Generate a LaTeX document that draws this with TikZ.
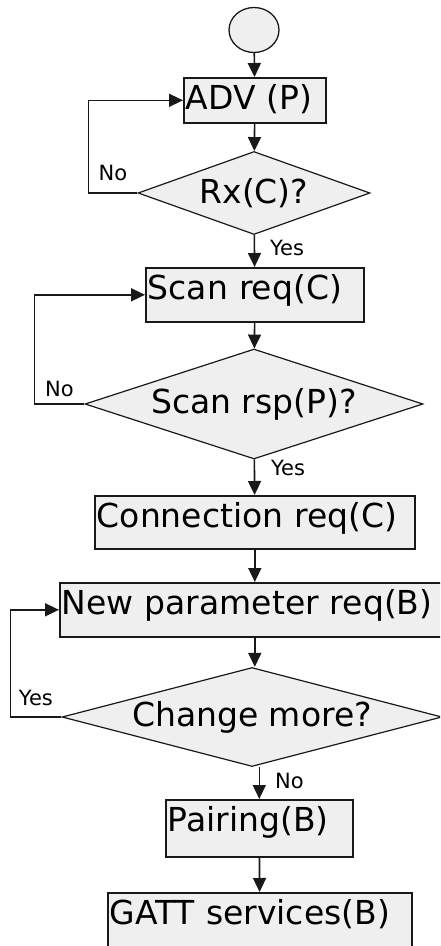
\documentclass[tikz,border=0pt]{standalone}
\usepackage{fontspec}
\newfontfamily\flowfont{DejaVu Sans}
\usetikzlibrary{shapes.geometric,arrows.meta}
\definecolor{boxgray}{RGB}{239,239,239}
\definecolor{linegray}{RGB}{25,25,25}
\tikzset{
  bigtext/.style={font=\flowfont\fontsize{33}{36}\selectfont},
  lbl/.style={font=\flowfont\fontsize{21}{24}\selectfont, inner sep=0pt},
  startnode/.style={ellipse, draw=linegray, line width=1.3pt, fill=boxgray,
    minimum width=50pt, minimum height=45pt, inner sep=0pt},
  procbox/.style 2 args={draw=linegray, line width=1.6pt, fill=boxgray,
    anchor=north west, inner xsep=2pt, inner ysep=0pt, text width=#1,
    text height=32pt, text depth=#2, align=left, bigtext},
  decision/.style={diamond, draw=linegray, line width=1.2pt, fill=boxgray,
    inner sep=0pt, bigtext},
  flow/.style={-{Triangle[length=14pt,width=13pt]}, line width=1.6pt, draw=linegray}
}
\begin{document}
\begin{tikzpicture}[x=1pt, y=-1pt]
      \useasboundingbox (0,0) rectangle (440,946);
      \clip (0,0) rectangle (440,946);
      \draw
        (254,30) node[startnode] (start){}
        (183,77) node[procbox={138pt}{13pt}] (adv){ADV (P)}
        (254,193) node[decision, minimum width=232pt, minimum height=83pt, shape aspect=2.8] (rx){Rx(C)?}
        (145,267) node[procbox={214pt}{22pt}] (scanreq){Scan req(C)}
        (254,404) node[decision, minimum width=338pt, minimum height=110pt, shape aspect=3] (scanrsp){Scan rsp(P)?}
        (94,495) node[procbox={316pt}{21pt}] (connreq){Connection req(C)}
        (59,582) node[procbox={386pt}{22pt}] (newparam){New parameter req(B)}
        (252,717) node[decision, minimum width=380pt, minimum height=99pt, shape aspect=3.8] (change){Change more?}
        (165,799) node[procbox={183pt}{25pt}] (pairing){Pairing(B)}
        (107,892) node[procbox={300pt}{46pt}] (gatt){GATT services(B)};
      \begin{scope}[flow]
        \draw (start) to (adv);
        \draw (adv) to (rx);
        \draw (rx) to node[lbl, pos=0, anchor=north west, xshift=15pt, yshift=-4pt]{Yes} (scanreq);
        \draw (scanreq) to (scanrsp);
        \draw (scanrsp) to node[lbl, pos=0, anchor=north west, xshift=16pt, yshift=0pt]{Yes} (connreq);
        \draw (connreq) to (newparam);
        \draw (newparam.south) to (newparam.south |- change.north);
        \draw (change.south -| pairing.north) to node[lbl, pos=0, anchor=north west, xshift=15pt, yshift=-5pt]{No} (pairing.north);
        \draw (pairing) to (gatt);
        \draw (rx.west) -- node[lbl, above=11pt]{No} ++(-49,0) |- (adv.west);
        \draw (scanrsp.west) -- node[lbl, above=6pt]{No} ++(-50,0) |- (scanreq.west);
        \draw (change.west) -- node[lbl, above=10pt]{Yes} ++(-51,0) |- (newparam.west);
      \end{scope}
    \end{tikzpicture}
\end{document}
